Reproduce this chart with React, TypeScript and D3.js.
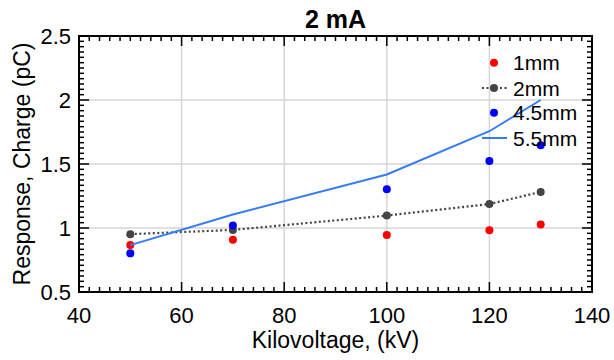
import React from "react";
import * as d3 from "d3";

const kv = [50, 70, 100, 120, 130];
const s1mm = [0.867, 0.909, 0.945, 0.983, 1.027];
const s2mm = [0.952, 0.985, 1.097, 1.187, 1.282];
const s45mm = [0.802, 1.019, 1.302, 1.524, 1.647];
const s55mm = [0.866, 1.105, 1.418, 1.756, 2.0];

const xTicks = [40, 60, 80, 100, 120, 140];
const yTicks = [0.5, 1, 1.5, 2, 2.5];
const yTickLabels = ["0.5", "1", "1.5", "2", "2.5"];
const legendLabels = ["1mm", "2mm", "4.5mm", "5.5mm"];

const W = 614, H = 360;
const L = 79, R = 592, T = 36, B = 292;
const FONT = "'Liberation Sans', Arial, sans-serif";

export default function App() {
  const x = d3.scaleLinear().domain([40, 140]).range([L, R]);
  const y = d3.scaleLinear().domain([0.5, 2.5]).range([B, T]);
  const xMinor = d3.range(40, 140.001, 2).filter((v) => v % 20 !== 0);
  const yMinor = d3.range(0, 48).map((i) => 0.5 + (i * 0.5) / 12).filter((_, i) => i % 12 !== 0);

  const line = d3.line<number>().x((_, i) => x(kv[i])).y((d) => y(d));

  const red = "#ff0000", gray = "#444444", blue = "#0000ff", lblue = "#367cf7";
  const r = 4;
  const legY = [62.7, 88, 112.7, 138];
  const legX = 494;

  return (
    <svg width={W} height={H} style={{ position: "absolute", left: 0, top: 0, background: "#fff" }} fontFamily={FONT}>
      <rect x={0} y={0} width={W} height={H} fill="#fff" />
      {/* grid */}
      {xTicks.slice(1, -1).map((v) => (
        <line key={"gx" + v} x1={x(v)} x2={x(v)} y1={T} y2={B} stroke="#d6d6d6" strokeWidth={1.5} />
      ))}
      {yTicks.slice(1, -1).map((v) => (
        <line key={"gy" + v} x1={L} x2={R} y1={y(v)} y2={y(v)} stroke="#d6d6d6" strokeWidth={1.5} />
      ))}
      {/* ticks */}
      {xTicks.map((v) => (
        <g key={"xt" + v}>
          <line x1={x(v)} x2={x(v)} y1={B} y2={B - 10} stroke="#000" strokeWidth={1.5} />
          <line x1={x(v)} x2={x(v)} y1={T} y2={T + 10} stroke="#000" strokeWidth={1.5} />
        </g>
      ))}
      {xMinor.map((v) => (
        <g key={"xm" + v}>
          <line x1={x(v)} x2={x(v)} y1={B} y2={B - 5} stroke="#000" strokeWidth={1.5} />
          <line x1={x(v)} x2={x(v)} y1={T} y2={T + 5} stroke="#000" strokeWidth={1.5} />
        </g>
      ))}
      {yTicks.map((v) => (
        <g key={"yt" + v}>
          <line x1={L} x2={L + 10} y1={y(v)} y2={y(v)} stroke="#000" strokeWidth={1.5} />
          <line x1={R} x2={R - 10} y1={y(v)} y2={y(v)} stroke="#000" strokeWidth={1.5} />
        </g>
      ))}
      {yMinor.map((v, i) => (
        <g key={"ym" + i}>
          <line x1={L} x2={L + 5} y1={y(v)} y2={y(v)} stroke="#000" strokeWidth={1.5} />
          <line x1={R} x2={R - 5} y1={y(v)} y2={y(v)} stroke="#000" strokeWidth={1.5} />
        </g>
      ))}
      <rect x={L} y={T} width={R - L} height={B - T} fill="none" stroke="#000" strokeWidth={2} />
      {/* tick labels */}
      {xTicks.map((v) => (
        <text key={"xl" + v} x={x(v)} y={323} fontSize={22} textAnchor="middle" fill="#000">{v}</text>
      ))}
      {yTicks.map((v, i) => (
        <text key={"yl" + v} x={71} y={y(v)} dy="0.36em" fontSize={22} textAnchor="end" fill="#000">{yTickLabels[i]}</text>
      ))}
      {/* titles */}
      <text x={(L + R) / 2} y={28} fontSize={25} fontWeight="bold" textAnchor="middle">2 mA</text>
      <text x={(L + R) / 2} y={348} fontSize={23} textAnchor="middle">Kilovoltage, (kV)</text>
      <text transform={`translate(30,${(T + B) / 2}) rotate(-90)`} fontSize={23} textAnchor="middle">Response, Charge (pC)</text>
      {/* series */}
      <path d={line(s2mm) || ""} fill="none" stroke={gray} strokeWidth={2.2} strokeDasharray="2 2.5" />
      {kv.map((k, i) => (
        <circle key={"c2" + k} cx={x(k)} cy={y(s2mm[i])} r={r} fill={gray} />
      ))}
      {kv.map((k, i) => (
        <circle key={"c1" + k} cx={x(k)} cy={y(s1mm[i])} r={r} fill={red} />
      ))}
      {kv.map((k, i) => (
        <circle key={"c4" + k} cx={x(k)} cy={y(s45mm[i])} r={r} fill={blue} />
      ))}
      <path d={line(s55mm) || ""} fill="none" stroke={lblue} strokeWidth={2} />
      {/* legend */}
      <circle cx={legX} cy={legY[0]} r={r} fill={red} />
      <line x1={legX - 12} x2={legX + 13} y1={legY[1]} y2={legY[1]} stroke={gray} strokeWidth={2.2} strokeDasharray="2 2.5" />
      <circle cx={legX} cy={legY[1]} r={r} fill={gray} />
      <circle cx={legX} cy={legY[2]} r={r} fill={blue} />
      <line x1={legX - 12} x2={legX + 13} y1={legY[3]} y2={legY[3]} stroke={lblue} strokeWidth={2} />
      {legendLabels.map((t, i) => (
        <text key={t} x={513} y={legY[i]} dy="0.36em" fontSize={21} fill="#000">{t}</text>
      ))}
    </svg>
  );
}
